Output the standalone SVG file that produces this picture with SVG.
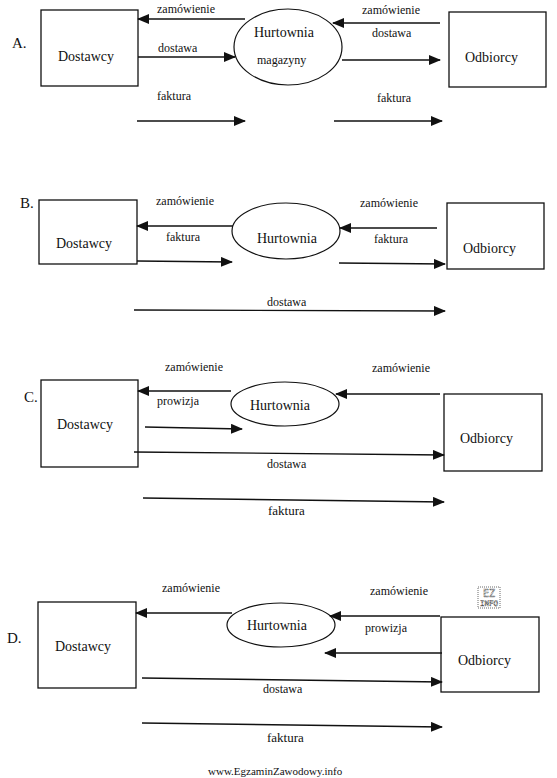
<svg xmlns="http://www.w3.org/2000/svg" width="557" height="778" viewBox="0 0 557 778">
<style>
text{font-family:"Liberation Serif","Times New Roman",serif;fill:#111}
.box{fill:#fff;stroke:#111;stroke-width:1.3}
.ell{fill:#fff;stroke:#111;stroke-width:1.2}
.lbl{font-size:12px}
.big{font-size:14px}
.hur{font-size:14px}
.sec{font-size:15px}
.fl{font-size:13px}
.cn line{stroke:#111;stroke-width:1.3;marker-end:url(#ah)}
.logo{font-family:"DejaVu Sans Mono",monospace;fill:none;stroke:#333;stroke-width:0.6;stroke-dasharray:1,0.5}
</style>
<defs>
<marker id="ah" markerWidth="12" markerHeight="10" refX="11" refY="5" orient="auto" markerUnits="userSpaceOnUse">
<path d="M0,0 L12,5 L0,10 z" fill="#111"/>
</marker>
</defs>
<rect width="557" height="778" fill="#fff"/>

<!-- Section A -->
<text class="sec" x="12" y="48">A.</text>
<g id="A-dostawcy"><rect class="box" x="41" y="10" width="97" height="76"/><text class="big" x="58" y="61">Dostawcy</text></g>
<g id="A-hurtownia"><ellipse class="ell" cx="288" cy="47" rx="54" ry="38"/><text class="hur" x="254" y="37">Hurtownia</text><text class="lbl" x="257" y="64">magazyny</text></g>
<g id="A-odbiorcy"><rect class="box" x="449" y="12" width="97" height="75"/><text class="big" x="465" y="62">Odbiorcy</text></g>
<g class="cn" id="A-connectors">
<line x1="245" y1="19" x2="138" y2="19"/>
<line x1="138" y1="57" x2="235" y2="57"/>
<line x1="137" y1="121" x2="245" y2="121"/>
<line x1="440" y1="23" x2="333" y2="23"/>
<line x1="342" y1="60" x2="440" y2="60"/>
<line x1="334" y1="121" x2="442" y2="121"/>
</g>
<text class="lbl" x="157" y="13">zamówienie</text>
<text class="lbl" x="158" y="52">dostawa</text>
<text class="lbl" x="157" y="100">faktura</text>
<text class="lbl" x="362" y="14">zamówienie</text>
<text class="lbl" x="372" y="37">dostawa</text>
<text class="lbl" x="377" y="102">faktura</text>

<!-- Section B -->
<text class="sec" x="20" y="208">B.</text>
<g id="B-dostawcy"><rect class="box" x="39" y="200" width="98" height="64"/><text class="big" x="56" y="248">Dostawcy</text></g>
<g id="B-hurtownia"><ellipse class="ell" cx="286" cy="231" rx="54" ry="28"/><text class="hur" x="257" y="243">Hurtownia</text></g>
<g id="B-odbiorcy"><rect class="box" x="447" y="203" width="97" height="66"/><text class="big" x="463" y="253">Odbiorcy</text></g>
<g class="cn" id="B-connectors">
<line x1="233" y1="226" x2="137" y2="226"/>
<line x1="137" y1="261" x2="232" y2="262"/>
<line x1="134" y1="310" x2="445" y2="311"/>
<line x1="437" y1="228" x2="340" y2="228"/>
<line x1="339" y1="263" x2="445" y2="264"/>
</g>
<text class="lbl" x="156" y="205">zamówienie</text>
<text class="lbl" x="166" y="241">faktura</text>
<text class="lbl" x="267" y="306">dostawa</text>
<text class="lbl" x="360" y="207">zamówienie</text>
<text class="lbl" x="374" y="243">faktura</text>

<!-- Section C -->
<text class="sec" x="24" y="402">C.</text>
<g id="C-dostawcy"><rect class="box" x="41" y="380" width="97" height="87"/><text class="big" x="57" y="429">Dostawcy</text></g>
<g id="C-hurtownia"><ellipse class="ell" cx="285" cy="404" rx="54" ry="22"/><text class="hur" x="250" y="410">Hurtownia</text></g>
<g id="C-odbiorcy"><rect class="box" x="444" y="394" width="98" height="77"/><text class="big" x="460" y="443">Odbiorcy</text></g>
<g class="cn" id="C-connectors">
<line x1="231" y1="391" x2="138" y2="391"/>
<line x1="145" y1="427" x2="242" y2="429"/>
<line x1="134" y1="452" x2="444" y2="455"/>
<line x1="143" y1="498" x2="444" y2="502"/>
<line x1="440" y1="394" x2="336" y2="394"/>
</g>
<text class="lbl" x="165" y="371">zamówienie</text>
<text class="lbl" x="157" y="405">prowizja</text>
<text class="lbl" x="267" y="468">dostawa</text>
<text class="fl" x="268" y="515">faktura</text>
<text class="lbl" x="372" y="372">zamówienie</text>

<!-- Section D -->
<text class="sec" x="7" y="643">D.</text>
<g id="D-dostawcy"><rect class="box" x="38" y="602" width="98" height="86"/><text class="big" x="55" y="651">Dostawcy</text></g>
<g id="D-hurtownia"><ellipse class="ell" cx="281" cy="625" rx="54" ry="22"/><text class="hur" x="247" y="630">Hurtownia</text></g>
<g id="D-odbiorcy"><rect class="box" x="441" y="617" width="98" height="75"/><text class="big" x="458" y="665">Odbiorcy</text></g>
<g class="cn" id="D-connectors">
<line x1="232" y1="613" x2="136" y2="613"/>
<line x1="142" y1="678" x2="442" y2="682"/>
<line x1="142" y1="723" x2="442" y2="727"/>
<line x1="440" y1="616" x2="330" y2="616"/>
<line x1="442" y1="653" x2="325" y2="653"/>
</g>
<text class="lbl" x="162" y="592">zamówienie</text>
<text class="lbl" x="263" y="693">dostawa</text>
<text class="fl" x="267" y="742">faktura</text>
<text class="lbl" x="370" y="595">zamówienie</text>
<text class="lbl" x="365" y="632">prowizja</text>

<!-- logo -->
<g id="logo">
<rect x="478" y="587" width="22" height="21" fill="none" stroke="#444" stroke-width="0.8" stroke-dasharray="1,1"/>
<text class="logo" x="489" y="597" text-anchor="middle" font-size="10">EZ</text>
<text class="logo" x="489" y="606" text-anchor="middle" font-size="7.5">INFO</text>
</g>

<text x="208" y="775" font-size="11">www.EgzaminZawodowy.info</text>
</svg>
